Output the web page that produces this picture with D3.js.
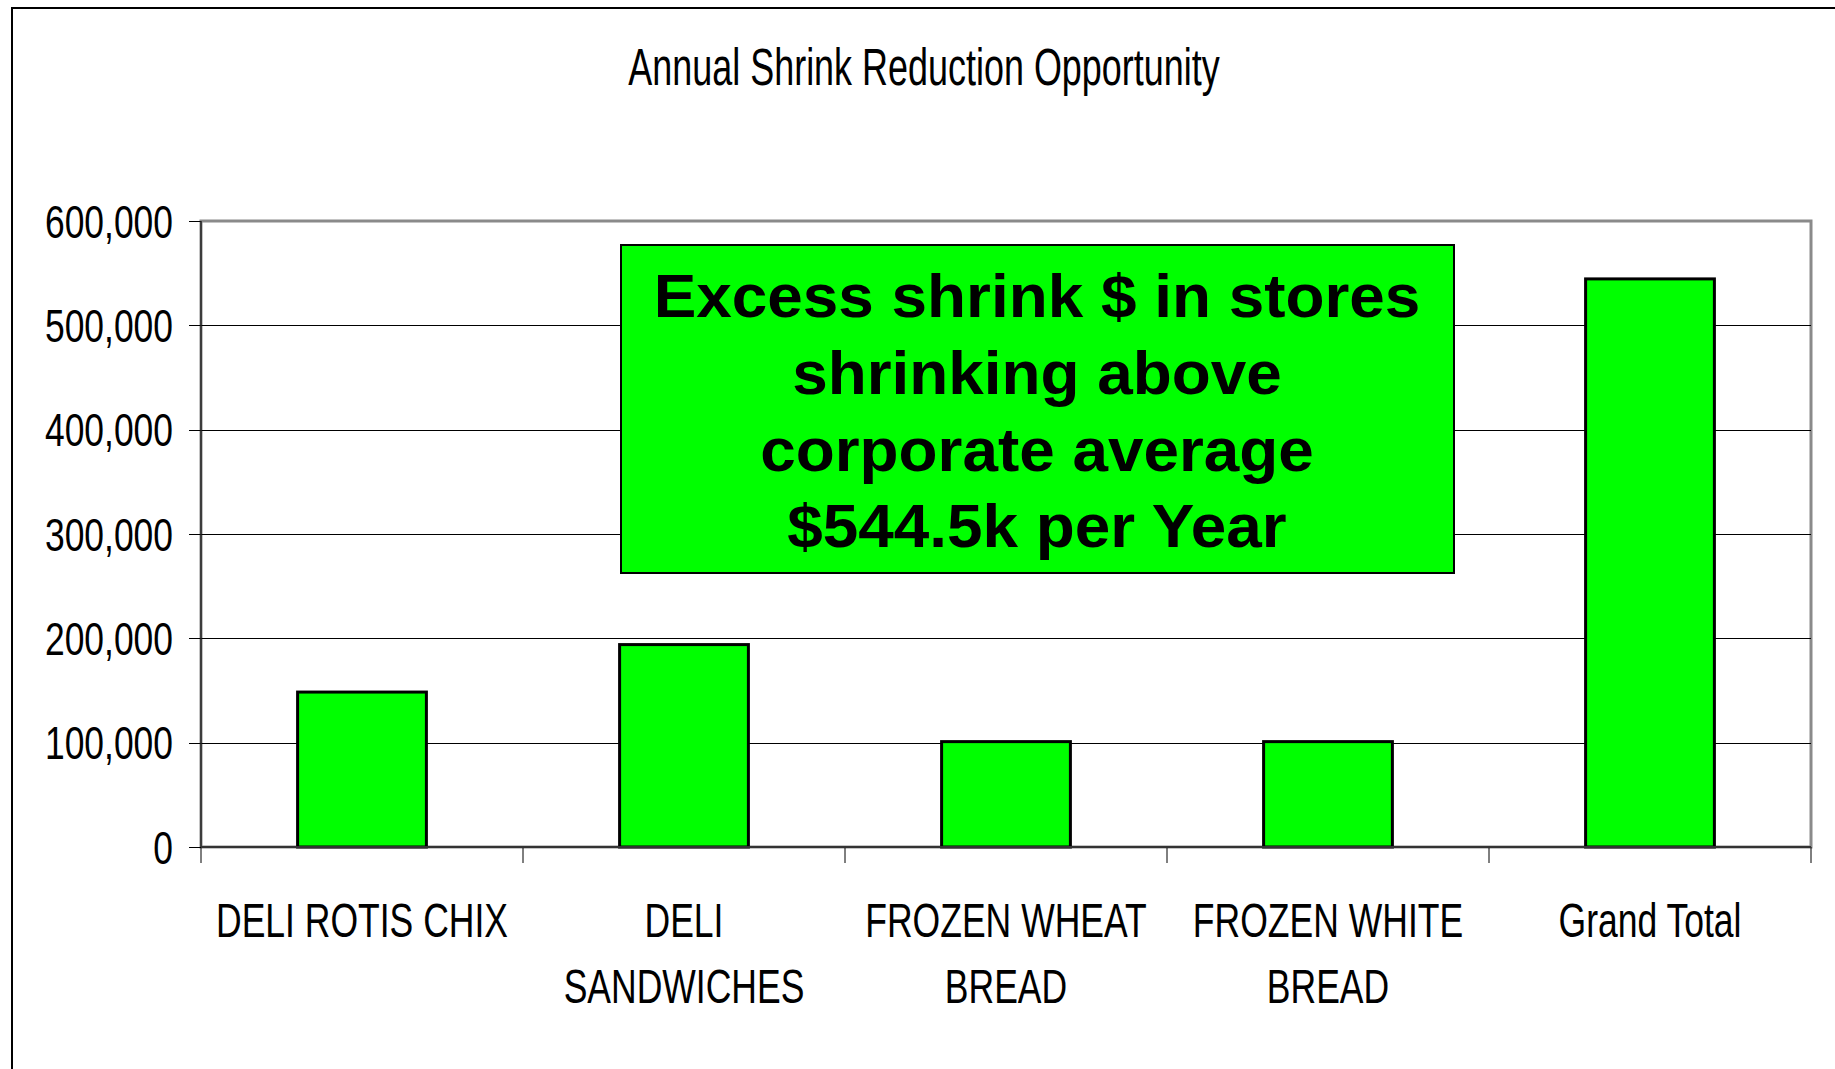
<!DOCTYPE html>
<html>
<head>
<meta charset="utf-8">
<title>Annual Shrink Reduction Opportunity</title>
<script src="https://d3js.org/d3.v7.min.js"></script>
<style>
  body { margin: 0; background: #fff; }
  svg { font-family: "Liberation Sans", Arial, sans-serif; }
  .grid line { stroke: #000; stroke-width: 1px; shape-rendering: crispEdges; }
  .grid path { display: none; }
  .axis path { display: none; }
  .axis line { stroke: #000; stroke-width: 1px; shape-rendering: crispEdges; }
</style>
</head>
<body>
<svg width="1835" height="1069"></svg>
<script>
const categories = ["DELI ROTIS CHIX", "DELI SANDWICHES", "FROZEN WHEAT BREAD", "FROZEN WHITE BREAD", "Grand Total"];
const categoryLines = [["DELI ROTIS CHIX"], ["DELI", "SANDWICHES"], ["FROZEN WHEAT", "BREAD"], ["FROZEN WHITE", "BREAD"], ["Grand Total"]];
const values = [148500, 194000, 101000, 101000, 544500];
const yTicks = [0, 100000, 200000, 300000, 400000, 500000, 600000];
const title = "Annual Shrink Reduction Opportunity";
const noteLines = ["Excess shrink $ in stores", "shrinking above", "corporate average", "$544.5k per Year"];

const plot = { left: 201, right: 1811, top: 221, bottom: 847 };
const svg = d3.select("svg");

// outer chart border (runs off the right and bottom edges)
svg.append("rect")
  .attr("x", 12).attr("y", 8)
  .attr("width", 1900).attr("height", 1200)
  .attr("fill", "none").attr("stroke", "#000").attr("stroke-width", 2);

const x = d3.scaleBand()
  .domain(categories)
  .range([plot.left, plot.right])
  .paddingInner(0.6)
  .paddingOuter(0.3);

const y = d3.scaleLinear()
  .domain([0, 600000])
  .range([plot.bottom, plot.top]);

// title
svg.append("text")
  .attr("transform", "translate(924,85) scale(0.705,1)")
  .attr("text-anchor", "middle")
  .style("font-size", "51px")
  .text(title);

// plot frame
svg.append("rect")
  .attr("x", plot.left).attr("y", plot.top)
  .attr("width", plot.right - plot.left).attr("height", plot.bottom - plot.top)
  .attr("fill", "#fff").attr("stroke", "#8a8a8a").attr("stroke-width", 3);

// gridlines
svg.append("g")
  .attr("class", "grid")
  .attr("transform", `translate(${plot.left},0)`)
  .call(d3.axisLeft(y).tickValues(yTicks.slice(1, -1)).tickSize(-(plot.right - plot.left)).tickFormat(""));

// y axis ticks and labels
svg.append("g")
  .attr("class", "axis")
  .attr("transform", `translate(${plot.left},0)`)
  .call(d3.axisLeft(y).tickValues(yTicks).tickSize(12).tickFormat(""));

svg.append("g").selectAll("text")
  .data(yTicks)
  .join("text")
  .attr("transform", d => `translate(173,${y(d)}) scale(0.77,1)`)
  .attr("dy", "0.36em")
  .attr("text-anchor", "end")
  .style("font-size", "46px")
  .text(d3.format(","));

svg.append("line")
  .attr("x1", plot.left).attr("x2", plot.left)
  .attr("y1", plot.top).attr("y2", plot.bottom)
  .attr("stroke", "#222").attr("stroke-width", 1.5);

// category boundary ticks
const step = x.step();
const bounds = categories.map(c => x(c) - (step - x.bandwidth()) / 2).concat([plot.right]);
svg.append("g").selectAll("line")
  .data(bounds)
  .join("line")
  .attr("x1", d => d).attr("x2", d => d)
  .attr("y1", plot.bottom).attr("y2", plot.bottom + 16)
  .attr("stroke", "#000").attr("stroke-width", 1);

// bars
svg.append("g").selectAll("rect")
  .data(values)
  .join("rect")
  .attr("x", (d, i) => x(categories[i]))
  .attr("y", d => y(d))
  .attr("width", x.bandwidth())
  .attr("height", d => y(0) - y(d))
  .attr("fill", "#00ff00")
  .attr("stroke", "#000")
  .attr("stroke-width", 3);

svg.append("line")
  .attr("x1", plot.left).attr("x2", plot.right)
  .attr("y1", plot.bottom).attr("y2", plot.bottom)
  .attr("stroke", "#333").attr("stroke-width", 2);

// category labels
const labels = svg.append("g").selectAll("g")
  .data(categories)
  .join("g");
labels.each(function(c, i) {
  const cx = x(c) + x.bandwidth() / 2;
  d3.select(this).selectAll("text")
    .data(categoryLines[i])
    .join("text")
    .attr("transform", (t, j) => `translate(${cx},${937 + j * 66}) scale(0.725,1)`)
    .attr("text-anchor", "middle")
    .style("font-size", "49px")
    .text(t => t);
});

// annotation box
const note = svg.append("g");
note.append("rect")
  .attr("x", 621).attr("y", 245)
  .attr("width", 833).attr("height", 328)
  .attr("fill", "#00ff00")
  .attr("stroke", "#000").attr("stroke-width", 2);
note.selectAll("text")
  .data(noteLines)
  .join("text")
  .attr("transform", (d, i) => `translate(1037,${317 + i * 76.8}) scale(1.03,1)`)
  .attr("text-anchor", "middle")
  .style("font-size", "62px")
  .style("font-weight", "bold")
  .text(d => d);
</script>
</body>
</html>
